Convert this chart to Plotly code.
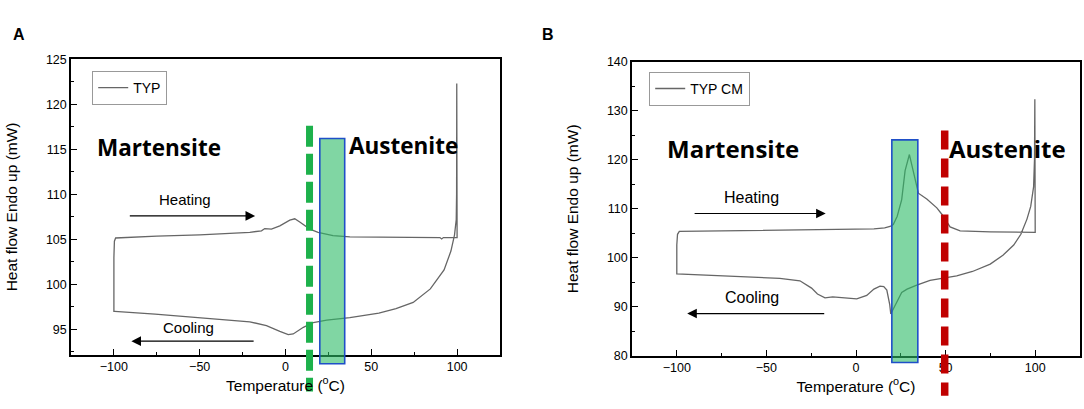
import plotly.graph_objects as go
from plotly.subplots import make_subplots

# ---- panel A : TYP ----
heat_a_x = [-100, -99.7, -99, -90, -75, -50, -30, -20.8, -14, -12.1, -8.2, -3.3, 2.5, 5.4,
            8.3, 14.2, 19, 27.7, 37.5, 50, 70, 90, 91, 92, 100]
heat_a_y = [103.0, 104.8, 105.15, 105.25, 105.35, 105.5, 105.65, 105.78, 105.95, 106.2, 106.14,
            106.5, 107.13, 107.28, 106.92, 106.14, 105.78, 105.42, 105.28, 105.25, 105.22, 105.2,
            105.05, 105.2, 105.2]
cool_a_x = [99.8, 99.7, 99.5, 98.5, 96.4, 92.4, 84.4, 74.4, 64.4, 54.4, 37.5, 24, 16.2, 10.4,
            4.5, 1.6, -3.3, -11.1, -20.8, -49.9, -76, -99.5, -100, -100]
cool_a_y = [122.3, 110, 107.2, 105.5, 103.7, 101.6, 99.5, 98.0, 97.3, 96.8, 96.31, 96.03, 95.77,
            95.24, 94.5, 94.42, 94.78, 95.42, 95.85, 96.31, 96.7, 97.0, 97.0, 103.0]

# ---- panel B : TYP CM ----
heat_b_x = [-100, -99.6, -98.6, -70, -40, -9, 10, 16, 19, 20.8, 23, 25.5, 27.4, 29.8, 32.4,
            34.8, 39.5, 45.1, 47.9, 52.5, 58.1, 75, 100]
heat_b_y = [102.6, 104.8, 105.4, 105.5, 105.6, 105.7, 105.9, 106.1, 106.4, 106.8, 108.5, 111.9,
            117.8, 121.1, 117.2, 113.2, 112.0, 110.2, 108.9, 106.3, 105.5, 105.3, 105.2]
cool_b_x = [99.8, 99.6, 99.1, 97.5, 95.4, 92, 88, 82, 74.9, 65, 56.2, 46.9, 41.3, 33.9, 28.5,
            25.5, 21.8, 20.2, 19.4, 18.8, 17.2, 15.5, 13.4, 10, 6, 0.4, -8.9, -13, -17.3, -21.5,
            -24.8, -31.3, -42.5, -70, -99.5, -100, -100]
cool_b_y = [132.4, 120, 114.5, 110.5, 107.9, 104.8, 102.6, 100.5, 98.7, 97.2, 96.3, 95.7, 95.4,
            94.4, 93.6, 92.9, 90.4, 89.2, 88.5, 90.5, 93.4, 94.1, 94.2, 93.6, 92.3, 91.6, 91.9,
            92.0, 91.8, 92.6, 93.8, 95.3, 95.8, 96.3, 96.7, 96.7, 102.6]

# transition markers (temperatures in degC)
green_line_a = 14
band_a = [20, 34.5]
red_line_b = 49.5
band_b = [20, 34.5]

x_range = [-125, 125]
y_range_a = [92.2, 125]
y_range_b = [80, 140]
dom_xa = [71 / 1084, 500 / 1084]
dom_ya = [1 - 360 / 409, 1 - 54 / 409]
dom_xb = [632 / 1084, 1080 / 1084]
dom_yb = [1 - 361 / 409, 1 - 57 / 409]


def to_paper(v, rng, dom):
    return dom[0] + (v - rng[0]) / (rng[1] - rng[0]) * (dom[1] - dom[0])


fig = make_subplots(rows=1, cols=2)

fig.add_trace(go.Scatter(x=heat_a_x + cool_a_x, y=heat_a_y + cool_a_y, mode="lines", name="TYP",
                         line=dict(color="#666666", width=1.3), legend="legend",
                         showlegend=True), row=1, col=1)
fig.add_trace(go.Scatter(x=heat_b_x + cool_b_x, y=heat_b_y + cool_b_y, mode="lines", name="TYP CM",
                         line=dict(color="#666666", width=1.3), legend="legend2",
                         showlegend=True), row=1, col=2)

# dashed lines
fig.add_shape(type="line", xref="paper", yref="paper",
              x0=to_paper(green_line_a, x_range, dom_xa), x1=to_paper(green_line_a, x_range, dom_xa),
              y0=to_paper(117.6, y_range_a, dom_ya), y1=to_paper(88.1, y_range_a, dom_ya),
              line=dict(color="#1db14b", width=7, dash="21px,7px"))
fig.add_shape(type="line", xref="paper", yref="paper",
              x0=to_paper(red_line_b, x_range, dom_xb), x1=to_paper(red_line_b, x_range, dom_xb),
              y0=to_paper(126, y_range_b, dom_yb), y1=to_paper(71.8, y_range_b, dom_yb),
              line=dict(color="#c00000", width=7.5, dash="19px,9px"))

# green bands
fig.add_shape(type="rect", xref="paper", yref="paper",
              x0=to_paper(band_a[0], x_range, dom_xa), x1=to_paper(band_a[1], x_range, dom_xa),
              y0=to_paper(91.2, y_range_a, dom_ya), y1=to_paper(116.2, y_range_a, dom_ya),
              fillcolor="rgba(43,187,102,0.6)", line=dict(color="#1f4fc8", width=1.6))
fig.add_shape(type="rect", xref="paper", yref="paper",
              x0=to_paper(band_b[0], x_range, dom_xb), x1=to_paper(band_b[1], x_range, dom_xb),
              y0=to_paper(78.6, y_range_b, dom_yb), y1=to_paper(124.1, y_range_b, dom_yb),
              fillcolor="rgba(43,187,102,0.6)", line=dict(color="#1f4fc8", width=1.6))

big = dict(family="Open Sans", color="black")
small = dict(family="Arial", size=15, color="black")

# text labels
for xr, yr, x, y, t, f in [
    ("x", "y", -73.7, 115.25, "<b>Martensite</b>", dict(big, size=22.5)),
    ("x", "y", 69, 115.4, "<b>Austenite</b>", dict(big, size=22.5)),
    ("x", "y", -58.6, 109.4, "Heating", small),
    ("x", "y", -56.8, 95.2, "Cooling", small),
    ("x2", "y2", -68.4, 122.4, "<b>Martensite</b>", dict(big, size=24)),
    ("x2", "y2", 84.3, 122.4, "<b>Austenite</b>", dict(big, size=24)),
    ("x2", "y2", -58.1, 112.4, "Heating", dict(small, size=16)),
    ("x2", "y2", -58.2, 91.8, "Cooling", dict(small, size=16)),
]:
    fig.add_annotation(xref=xr, yref=yr, x=x, y=y, text=t, showarrow=False, font=f)

# arrows
for xr, yr, x0, x1, y in [
    ("x", "y", -91.6, -17.7, 107.6),
    ("x", "y", -17.7, -89.8, 93.7),
    ("x2", "y2", -90.9, -16.9, 109.05),
    ("x2", "y2", -16.9, -94.2, 88.6),
]:
    fig.add_annotation(xref=xr, yref=yr, axref=xr, ayref=yr, x=x1, y=y, ax=x0, ay=y, text="",
                       showarrow=True, arrowhead=2, arrowsize=1.6, arrowwidth=1.2,
                       arrowcolor="black")

# panel letters
fig.add_annotation(xref="paper", yref="paper", x=11 / 1084, y=1 - 18 / 409, text="<b>A</b>",
                   showarrow=False, font=dict(family="Arial", size=16, color="black"))
fig.add_annotation(xref="paper", yref="paper", x=548 / 1084, y=1 - 18 / 409, text="<b>B</b>",
                   showarrow=False, font=dict(family="Arial", size=16, color="black"))

axis_common = dict(showline=True, linecolor="black", linewidth=1.5, mirror=True, showgrid=False,
                   zeroline=False, ticks="inside", ticklen=6, tickcolor="black", tickwidth=1.2,
                   tickfont=dict(family="Arial", size=12.5, color="black"))
title_font = dict(family="Arial", size=15.5, color="black")

fig.update_xaxes(axis_common, range=x_range, dtick=50, tick0=0,
                 minor=dict(dtick=25, ticks="inside", ticklen=3, tickcolor="black"),
                 title=dict(text="Temperature (<sup>o</sup>C)", font=title_font, standoff=3))
fig.update_yaxes(axis_common, title=dict(text="Heat flow Endo up (mW)", font=title_font, standoff=24))
fig.update_xaxes(domain=dom_xa, row=1, col=1)
fig.update_xaxes(domain=dom_xb, row=1, col=2)
fig.update_yaxes(domain=dom_ya, range=y_range_a, dtick=5, tick0=0,
                 minor=dict(dtick=2.5, ticks="inside", ticklen=3, tickcolor="black"), row=1, col=1)
fig.update_yaxes(domain=dom_yb, range=y_range_b, dtick=10, tick0=0,
                 minor=dict(dtick=5, ticks="inside", ticklen=3, tickcolor="black"), row=1, col=2)

legend_common = dict(xanchor="left", yanchor="top", bgcolor="white", bordercolor="#999999",
                     borderwidth=1.2, font=dict(family="Arial", size=14, color="black"))
fig.update_layout(
    width=1084, height=409,
    margin=dict(l=0, r=0, t=0, b=0),
    plot_bgcolor="white", paper_bgcolor="white",
    showlegend=True,
    legend=dict(legend_common, x=92 / 1084, y=1 - 66 / 409),
    legend2=dict(legend_common, x=649 / 1084, y=1 - 67 / 409),
)

fig.write_html("out.html", config={"displayModeBar": False},
               post_script="document.body.style.margin='0';")
